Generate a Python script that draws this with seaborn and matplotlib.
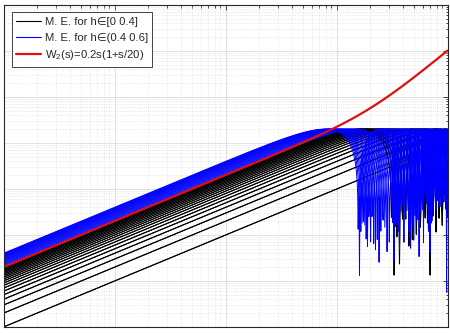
import numpy as np
import pandas as pd
import matplotlib
matplotlib.use("Agg")
import matplotlib.pyplot as plt
from matplotlib.lines import Line2D
from matplotlib.ticker import LogLocator, NullFormatter
import seaborn as sns

# ---- data ----
# delays h for the two families, nominal delay h0, weight W2(s)=0.2s(1+s/20)
h_black = [0.00, 0.01, 0.02, 0.03, 0.04, 0.05, 0.06, 0.07, 0.08, 0.09,
           0.10, 0.11, 0.12, 0.13, 0.14, 0.15, 0.16, 0.17, 0.18, 0.19,
           0.20, 0.21, 0.22, 0.23, 0.24, 0.25, 0.26, 0.27, 0.28, 0.29,
           0.30, 0.31, 0.32, 0.33, 0.34, 0.35, 0.36, 0.37, 0.38, 0.39, 0.40]
h_blue = [0.41, 0.42, 0.43, 0.44, 0.45, 0.46, 0.47, 0.48, 0.49, 0.50,
          0.51, 0.52, 0.53, 0.54, 0.55, 0.56, 0.57, 0.58, 0.59, 0.60]
h_nominal = 0.2
w2_gain = 0.2
w2_corner = 20.0
w_range = (1e-2, 1e2)
y_range = (1e-4, 1e3)
labels = ["M. E. for h\u2208[0 0.4]", "M. E. for h\u2208(0.4 0.6]",
          "W$_2$(s)=0.2s(1+s/20)"]

w = np.logspace(np.log10(w_range[0]), np.log10(w_range[1]), 1000)


def mult_error(hs):
    rows = []
    for h in hs:
        me = np.abs(np.exp(-1j * w * (h - h_nominal)) - 1)
        rows.append(pd.DataFrame({"w": w, "me": me, "h": h}))
    df = pd.concat(rows, ignore_index=True)
    return df[df["me"] > 0]


df_black = mult_error(h_black)
df_blue = mult_error(h_blue)
df_w2 = pd.DataFrame({"w": w,
                      "mag": np.abs(w2_gain * 1j * w * (1 + 1j * w / w2_corner))})

# ---- plot ----
sns.set_style("white")
plt.rcParams["font.family"] = ["Liberation Sans", "DejaVu Sans"]
plt.rcParams["mathtext.fontset"] = "custom"
plt.rcParams["mathtext.rm"] = "Liberation Sans"
plt.rcParams["mathtext.it"] = "Liberation Sans"

fig = plt.figure(figsize=(4.5, 3.33), dpi=100)
ax = fig.add_axes([3.5 / 450, 6 / 333, 444 / 450, 322 / 333])

sns.lineplot(data=df_black, x="w", y="me", units="h", estimator=None,
             color="black", lw=0.75, ax=ax)
sns.lineplot(data=df_blue, x="w", y="me", units="h", estimator=None,
             color="blue", lw=0.7, ax=ax)
sns.lineplot(data=df_w2, x="w", y="mag", color="#e01010", lw=1.6, ax=ax)

ax.set_xscale("log")
ax.set_yscale("log")
ax.set_xlim(*w_range)
ax.set_ylim(*y_range)
ax.set_xlabel("")
ax.set_ylabel("")

for axis in (ax.xaxis, ax.yaxis):
    axis.set_major_locator(LogLocator(base=10, numticks=20))
    axis.set_minor_locator(LogLocator(base=10, subs=np.arange(2, 10), numticks=20))
    axis.set_major_formatter(NullFormatter())
    axis.set_minor_formatter(NullFormatter())

ax.grid(True, which="major", color="#dcdcdc", lw=0.6, ls="-")
ax.grid(True, which="minor", color="#d8d8d8", lw=0.5, ls=":")
ax.tick_params(which="both", direction="in", top=True, right=True,
               color="#262626", width=0.6)
ax.tick_params(which="major", length=3.5)
ax.tick_params(which="minor", length=1.8)
for sp in ax.spines.values():
    sp.set_color("#262626")
    sp.set_linewidth(0.8)

handles = [Line2D([], [], color="black", lw=0.8),
           Line2D([], [], color="blue", lw=0.8),
           Line2D([], [], color="#e01010", lw=1.6)]
leg = ax.legend(handles, labels, loc="upper left",
                bbox_to_anchor=(0.019, 0.977), borderaxespad=0,
                fontsize=8.1, handlelength=2.2, handletextpad=0.3,
                labelspacing=0.5, borderpad=0.4, fancybox=False,
                framealpha=1, edgecolor="#262626")
leg.get_frame().set_linewidth(0.6)

fig.savefig("out.png", dpi=100)
